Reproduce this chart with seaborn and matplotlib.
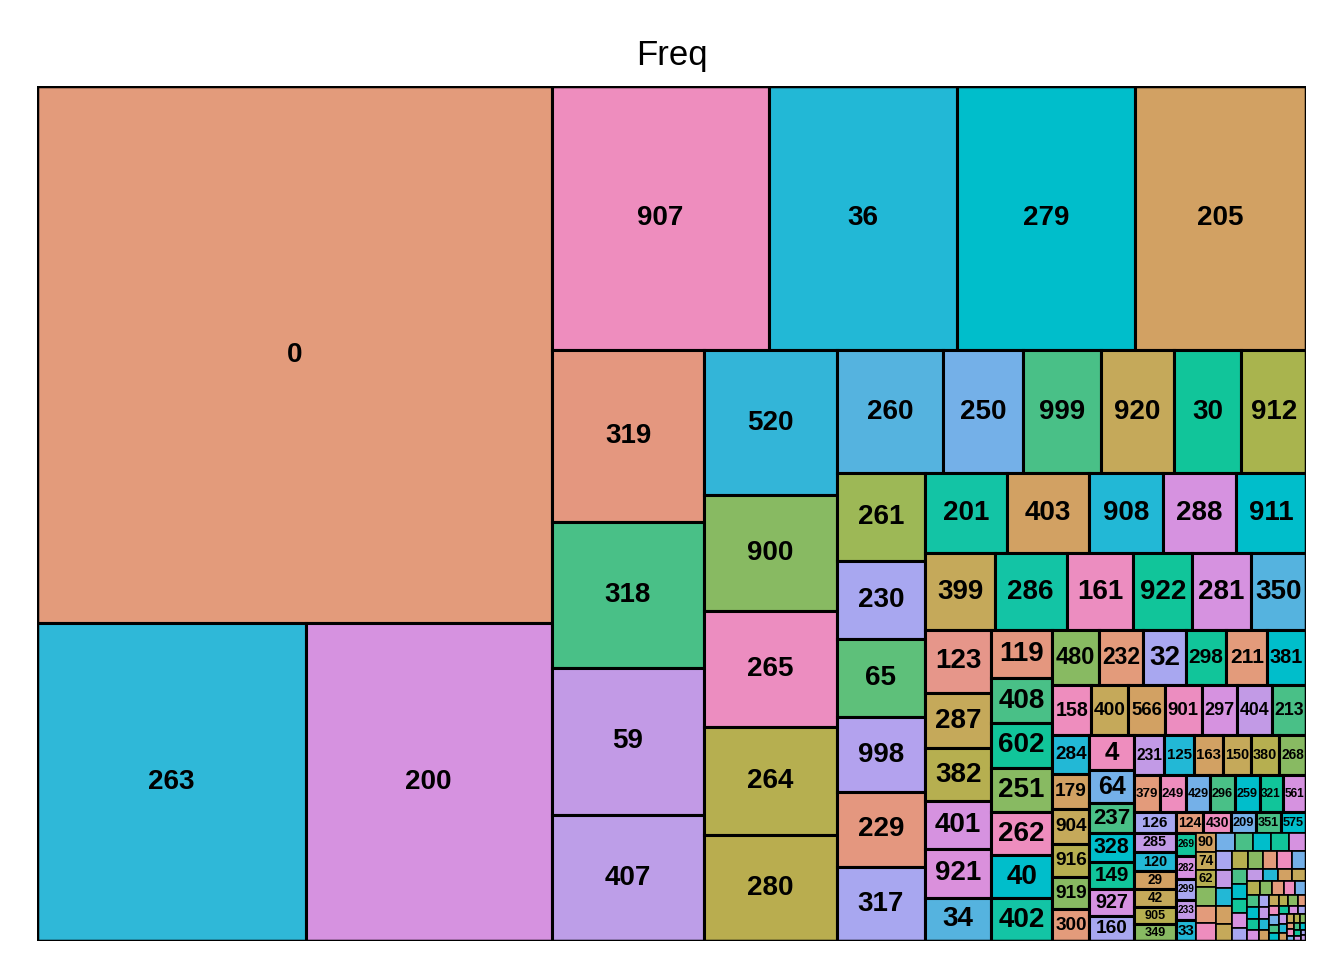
# ---------------------------------------------------------------------------
# Treemap of value frequencies ("Freq")
# ---------------------------------------------------------------------------

import matplotlib
matplotlib.use("Agg")
import matplotlib.pyplot as plt
import seaborn as sns
from matplotlib.patches import Rectangle

# ---------------------------------------------------------------------------
# Data
# ---------------------------------------------------------------------------

labels = [
    "0", "263", "200", "907", "36", "279", "205", "319", "318", "59", "407",
    "520", "900", "265", "264", "280", "260", "250", "999", "920", "30", "912",
    "261", "230", "65", "998", "229", "317", "201", "403", "908", "288", "911",
    "399", "286", "161", "922", "281", "350", "123", "287", "382", "401",
    "921", "34", "119", "408", "602", "251", "262", "40", "402", "480", "232",
    "32", "298", "211", "381", "158", "400", "566", "901", "297", "404", "213",
    "284", "179", "904", "916", "919", "300", "4", "64", "237", "328", "149",
    "927", "160", "231", "125", "163", "150", "380", "268", "379", "249", "429",
    "296", "259", "321", "561", "126", "285", "120", "29", "42", "905", "349",
    "124", "430", "209", "351", "575", "269", "282", "299", "233", "33",
    "90", "74", "62",
]

freq = [
    272, 84, 77, 56.5, 49, 46.4, 44.4, 25.8, 22, 22, 19,
    18.8, 15.1, 15.1, 14, 13.8, 12.9, 9.6, 9.4, 8.8, 8.2, 7.8,
    7.7, 6.8, 6.8, 6.6, 6.5, 6.5, 6.4, 6.4, 5.8, 5.7, 5.5,
    5.3, 5.5, 5.1, 4.5, 4.5, 4.2, 4.0, 3.6, 3.4, 3.1,
    3.1, 2.8, 2.9, 2.7, 2.7, 2.7, 2.6, 2.6, 2.6, 2.5, 2.4,
    2.3, 2.2, 2.2, 2.1, 1.9, 1.85, 1.8, 1.8, 1.75, 1.7, 1.7,
    1.4, 1.3, 1.25, 1.2, 1.2, 1.15, 1.5, 1.45, 1.3, 1.25, 1.2,
    1.15, 1.1, 1.2, 1.15, 1.15, 1.1, 1.1, 1.05, 0.95, 0.95, 0.9,
    0.9, 0.9, 0.85, 0.85, 0.85, 0.8, 0.8, 0.75, 0.75, 0.7, 0.7,
    0.55, 0.55, 0.5, 0.5, 0.5, 0.45, 0.45, 0.4, 0.4, 0.4,
    0.38, 0.36, 0.34,
]

# unlabeled small cells in the lower right corner
tiny = [
    0.36, 0.35, 0.35, 0.34, 0.33, 0.33, 0.32, 0.31, 0.3, 0.3, 0.29, 0.28,
    0.28, 0.27, 0.26, 0.25, 0.25, 0.24, 0.23, 0.22, 0.22, 0.21, 0.2, 0.2,
    0.19, 0.18, 0.18, 0.17, 0.16, 0.16, 0.15, 0.15, 0.14, 0.14, 0.13, 0.13,
    0.12, 0.12, 0.11, 0.11, 0.1, 0.1, 0.1, 0.09, 0.09, 0.09, 0.08, 0.08,
    0.08, 0.07, 0.07, 0.07, 0.06, 0.06, 0.06, 0.05, 0.05, 0.05, 0.05, 0.04,
    0.04, 0.04, 0.04, 0.03, 0.03, 0.03,
]

# colours of the labelled cells, in the order of labels
colors = {
    "0": "#E39B7B", "263": "#2FB8D8", "200": "#D692E0", "907": "#EE8DBE",
    "36": "#22B8D6", "279": "#00BECB", "205": "#D2A163", "319": "#E4977F",
    "318": "#49C087", "59": "#C29AE6", "407": "#BD9EE8", "520": "#33B5D8",
    "900": "#88BA62", "265": "#EC8DC0", "264": "#B6AF50", "280": "#B9AD4F",
    "260": "#55B3DF", "250": "#74B0E8", "999": "#49C087", "920": "#C5A95A",
    "30": "#11C59A", "912": "#A9B44E", "261": "#9DB856", "230": "#A8A7F0",
    "65": "#5EC07A", "998": "#B3A2EE", "229": "#E4977F", "317": "#A8A7F0",
    "201": "#13C4A5", "403": "#D2A163", "908": "#22B8D6", "288": "#D692E0",
    "911": "#00BECB", "399": "#C5A95A", "286": "#13C4A5", "161": "#EC8DC0",
    "922": "#11C59A", "281": "#D692E0", "350": "#55B3DF", "123": "#E6968A",
    "287": "#C5A95A", "382": "#B6AF50", "401": "#D692E0", "921": "#DA90DC",
    "34": "#55B3DF", "119": "#E4977F", "408": "#49C087", "602": "#11C59A",
    "251": "#88BA62", "262": "#EE8DBE", "40": "#00BECB", "402": "#13C4A5",
    "480": "#88BA62", "232": "#E39B7B", "32": "#A8A7F0", "298": "#11C59A",
    "211": "#E39B7B", "381": "#00BECB", "158": "#EE8DBE", "400": "#C5A95A",
    "566": "#D2A163", "901": "#EC8DC0", "297": "#D692E0", "404": "#C29AE6",
    "213": "#49C087",
}

palette = [
    "#E39B7B", "#49C087", "#D692E0", "#22B8D6", "#B6AF50", "#EE8DBE",
    "#00BECB", "#A8A7F0", "#D2A163", "#88BA62", "#74B0E8", "#11C59A",
    "#C29AE6", "#C5A95A",
]

# ---------------------------------------------------------------------------
# Layout: nested strips ("h" = side by side, "v" = stacked), leaves = labels
# ---------------------------------------------------------------------------

W, H = 1269.0, 855.0

value_of = dict(zip(labels, freq))
tiny_names = [f"_t{i}" for i in range(len(tiny))]
value_of.update(dict(zip(tiny_names, tiny)))


def h(*items):
    return ("h", list(items))


def v(*items):
    return ("v", list(items))


def squarify_group(names):
    return ("sq", names)


rest_tail = squarify_group(["269", "282", "299", "233", "33", "90", "74", "62"] + tiny_names)

rest6 = v(h("124", "430", "209", "351", "575"), rest_tail)
rest5 = v(h("231", "125", "163", "150", "380", "268"),
          h("379", "249", "429", "296", "259", "321", "561"),
          h(v("126", "285", "120", "29", "42", "905", "349"), rest6))
rest4 = h(v("284", "179", "904", "916", "919", "300"),
          v("4", "64", "237", "328", "149", "927", "160"), rest5)
rest3 = v(h("480", "232", "32", "298", "211", "381"),
          h("158", "400", "566", "901", "297", "404", "213"), rest4)
rest2 = v(h("201", "403", "908", "288", "911"),
          h("399", "286", "161", "922", "281", "350"),
          h(v("123", "287", "382", "401", "921", "34"),
            v("119", "408", "602", "251", "262", "40", "402"), rest3))
rest1 = v(h("260", "250", "999", "920", "30", "912"),
          h(v("261", "230", "65", "998", "229", "317"), rest2))
tree = h(v("0", h("263", "200")),
         v(h("907", "36", "279", "205"),
           h(v("319", "318", "59", "407"), v("520", "900", "265", "264", "280"), rest1)))


def total(node):
    if isinstance(node, str):
        return value_of[node]
    return sum(total(c) for c in node[1])


def worst(row, side):
    s = sum(row)
    return max(max(side * side * r / (s * s), s * s / (side * side * r)) for r in row)


def squarify(names, x, y, w, hh, out):
    vals = [value_of[n] for n in names]
    tot = sum(vals)
    areas = [a * w * hh / tot for a in vals]
    row, rnames, i = [], [], 0
    while i < len(areas):
        side = min(w, hh)
        if not row or worst(row + [areas[i]], side) <= worst(row, side):
            row.append(areas[i])
            rnames.append(names[i])
            i += 1
            if i < len(areas):
                continue
        s = sum(row)
        if w >= hh:
            cw = s / hh
            yy = y
            for a, n in zip(row, rnames):
                out.append((n, x, yy, cw, a / cw))
                yy += a / cw
            x, w = x + cw, w - cw
        else:
            ch = s / w
            xx = x
            for a, n in zip(row, rnames):
                out.append((n, xx, y, a / ch, ch))
                xx += a / ch
            y, hh = y + ch, hh - ch
        row, rnames = [], []


def place(node, x, y, w, hh, out):
    if isinstance(node, str):
        out.append((node, x, y, w, hh))
        return
    kind, kids = node
    if kind == "sq":
        squarify(kids, x, y, w, hh, out)
        return
    tot = total(node)
    for c in kids:
        frac = total(c) / tot
        if kind == "h":
            place(c, x, y, w * frac, hh, out)
            x += w * frac
        else:
            place(c, x, y, w, hh * frac, out)
            y += hh * frac


cells = []
place(tree, 0, 0, W, H, cells)

# ---------------------------------------------------------------------------
# Plot
# ---------------------------------------------------------------------------

sns.set_style("white")
plt.rcParams["font.family"] = ["Liberation Sans", "DejaVu Sans"]

fig = plt.figure(figsize=(13.44, 9.6), dpi=100)
ax = fig.add_axes([37 / 1344, 19 / 960, 1269 / 1344, 855 / 960])
ax.set_xlim(0, W)
ax.set_ylim(H, 0)
ax.axis("off")

for i, (name, x, y, w, hh) in enumerate(cells):
    color = colors.get(name, palette[(i * 5) % len(palette)])
    small = w * hh < 400
    ax.add_patch(Rectangle((x, y), w, hh, facecolor=color, edgecolor="black",
                           linewidth=1.2 if small else 2.2))
    if not name.startswith("_t"):
        fs = min(20, w * 0.92 * 0.72 / (0.6 * len(name)), hh * 0.75 * 0.72)
        if fs >= 4:
            ax.text(x + w / 2, y + hh / 2, name, ha="center", va="center",
                    fontsize=fs, fontweight="bold", color="black")

ax.add_patch(Rectangle((0, 0), W, H, fill=False, edgecolor="black", linewidth=2.5))

fig.text(672 / 1344, 1 - 55 / 960, "Freq", ha="center", va="center",
         fontsize=25, color="black")

fig.savefig("out.png", dpi=100)
